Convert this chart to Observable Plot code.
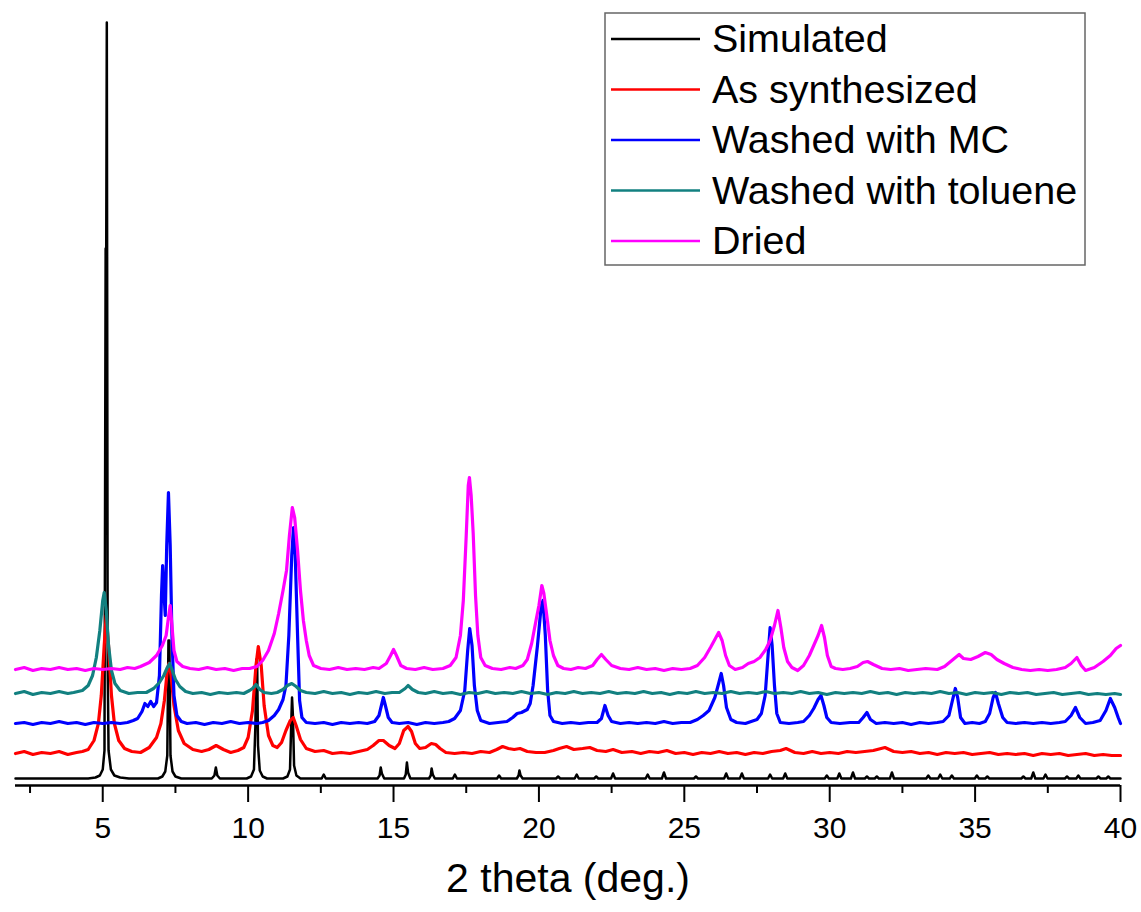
<!DOCTYPE html>
<html><head><meta charset="utf-8">
<script src="https://cdn.jsdelivr.net/npm/d3@7"></script>
<script src="https://cdn.jsdelivr.net/npm/@observablehq/plot@0.6"></script>
<style>
body{margin:0;background:#fff;}
#wrap{position:relative;width:1141px;height:912px;font-family:Arial,"Liberation Sans",sans-serif;}
#legend{position:absolute;left:604px;top:12px;}
#wrap g[aria-label="x-axis tick label"] text{font-size:30px !important;}
</style></head><body><div id="wrap"></div>
<script>
// ---- data (2 theta in degrees, intensity in a.u. with stacking offsets) ----
const seriesNames = ["Simulated", "As synthesized", "Washed with MC", "Washed with toluene", "Dried"];
const seriesColors = ["#000000", "#ff0000", "#0000ff", "#128080", "#ff00ff"];
const majorTicks = [5, 10, 15, 20, 25, 30, 35, 40];
const minorTicks = [2.5, 7.5, 12.5, 17.5, 22.5, 27.5, 32.5, 37.5];
const xTitle = "2 theta (deg.)";

const simulated = [[2.0,7],[4.5,7],[4.75,8],[4.9,10],[5.0,16],[5.06,35],[5.1,537],[5.12,530],[5.14,763],[5.17,120],[5.2,35],[5.28,16],[5.4,10],[5.6,8],[5.9,7],
[6.9,7],[7.05,9],[7.15,14],[7.22,30],[7.26,145],[7.29,145],[7.33,30],[7.4,14],[7.5,9],[7.7,7],
[8.75,7],[8.84,10],[8.89,18],[8.94,10],[9.03,7],
[9.95,7],[10.1,9],[10.2,16],[10.25,60],[10.28,126],[10.31,126],[10.34,40],[10.4,15],[10.5,9],[10.65,7],
[11.2,7],[11.35,9],[11.44,16],[11.48,60],[11.51,88],[11.54,70],[11.58,20],[11.66,10],[11.8,7],
[12.53,7],[12.6,11],[12.67,7],[14.45,7],[14.52,10],[14.56,18],[14.6,12],[14.68,7],
[15.36,7],[15.42,11],[15.46,23],[15.5,13],[15.58,7],[16.22,7],[16.28,10],[16.31,17],[16.35,11],[16.42,7],
[17.04,7],[17.11,11],[17.18,7],[18.56,7],[18.63,10],[18.7,7],[19.24,7],[19.3,10],[19.33,15],[19.37,10],[19.44,7],
[20.59,7],[20.66,9],[20.73,7],[21.23,7],[21.3,11],[21.37,7],[21.9,7],[21.97,9],[22.04,7],[22.48,7],[22.55,12],[22.62,7],
[23.67,7],[23.74,11],[23.81,7],[24.23,7],[24.3,13],[24.37,7],[25.33,7],[25.4,9],[25.47,7],[26.37,7],[26.44,12],[26.51,7],
[26.91,7],[26.98,12],[27.05,7],[27.88,7],[27.95,11],[28.02,7],[28.4,7],[28.47,12],[28.54,7],[29.83,7],[29.9,10],[29.97,7],
[30.26,7],[30.33,12],[30.4,7],[30.73,7],[30.8,13],[30.87,7],[31.21,7],[31.28,9],[31.35,7],[31.55,7],[31.62,9],[31.69,7],
[32.07,7],[32.14,13],[32.21,7],[33.32,7],[33.39,10],[33.46,7],[33.73,7],[33.8,11],[33.87,7],[34.13,7],[34.2,10],[34.27,7],
[34.99,7],[35.06,10],[35.13,7],[35.35,7],[35.42,9],[35.49,7],[36.59,7],[36.66,9],[36.73,7],[36.93,7],[37.0,13],[37.07,7],
[37.35,7],[37.42,11],[37.49,7],[38.09,7],[38.16,9],[38.23,7],[38.48,7],[38.55,10],[38.62,7],[39.17,7],[39.24,9],[39.31,7],
[39.51,7],[39.58,9],[39.65,7],[40.0,7]];

const asSynthesized = [[2.0,32],[2.3,34],[2.6,31],[2.9,33],[3.2,32],[3.5,34],[3.8,31],[4.1,33],[4.3,34],
[4.5,36],[4.7,45],[4.85,62],[4.95,90],[5.05,140],[5.12,170],[5.2,140],[5.3,90],[5.4,62],[5.55,45],[5.75,37],[6.0,34],[6.3,33],
[6.6,38],[6.85,48],[7.0,62],[7.12,85],[7.22,115],[7.28,122],[7.35,110],[7.45,80],[7.6,55],[7.8,42],[8.1,36],[8.4,34],[8.65,36],[8.9,40],[9.15,36],[9.4,33],
[9.65,35],[9.85,38],[10.0,48],[10.15,75],[10.27,120],[10.35,139],[10.45,120],[10.55,80],[10.7,50],[10.85,40],[11.0,38],
[11.15,43],[11.3,55],[11.45,65],[11.55,68],[11.65,60],[11.8,46],[12.0,37],[12.3,34],[12.6,35],[12.9,32],[13.2,33],[13.5,32],[13.8,34],
[14.1,36],[14.3,40],[14.5,45],[14.65,45],[14.85,40],[15.05,37],[15.2,42],[15.35,55],[15.5,59],[15.62,54],[15.75,42],[15.9,37],[16.1,38],[16.3,42],[16.45,41],[16.6,37],[16.8,33],
[17.1,32],[17.4,33],[17.7,32],[18.0,34],[18.3,33],[18.55,36],[18.75,39],[18.95,37],[19.15,36],[19.35,37],[19.6,34],[19.9,33],[20.2,33],[20.5,35],[20.7,37],[20.95,39],
[21.2,36],[21.5,37],[21.75,38],[22.0,35],[22.3,34],[22.55,36],[22.85,33],[23.2,34],[23.5,32],[23.8,34],[24.1,33],[24.4,35],[24.7,32],[25.0,33],[25.3,31],[25.6,33],
[25.9,32],[26.2,34],[26.5,32],[26.8,33],[27.1,31],[27.4,33],[27.7,32],[28.0,34],[28.3,35],[28.5,37],[28.8,33],[29.1,32],[29.4,34],[29.7,32],[30.0,33],[30.3,32],
[30.6,34],[30.9,33],[31.2,34],[31.5,35],[31.9,38],[32.2,34],[32.5,33],[32.8,34],[33.1,32],[33.4,33],[33.7,31],[34.0,33],[34.3,32],[34.6,33],[34.9,31],[35.2,32],
[35.5,33],[35.8,31],[36.1,32],[36.4,31],[36.7,32],[37.0,30],[37.3,32],[37.6,31],[37.9,32],[38.2,30],[38.5,31],[38.8,32],[39.1,30],[39.4,31],[39.7,30],[40.0,30]];

const washedMC = [[2.0,62],[2.3,63],[2.6,61],[2.9,63],[3.2,62],[3.5,64],[3.8,62],[4.1,63],[4.4,61],[4.7,63],[5.0,62],[5.3,63],[5.6,62],[5.85,63],[6.05,65],[6.2,67],
[6.35,74],[6.45,82],[6.55,79],[6.65,84],[6.75,79],[6.85,83],[6.95,110],[7.02,190],[7.06,220],[7.1,195],[7.15,170],[7.2,240],[7.26,293],[7.32,240],[7.38,150],[7.45,90],[7.55,70],[7.7,64],
[7.9,62],[8.2,63],[8.5,61],[8.8,63],[9.1,62],[9.4,64],[9.7,62],[10.0,63],[10.3,62],[10.5,63],[10.7,65],[10.9,70],[11.05,76],[11.2,86],[11.3,100],[11.4,150],[11.5,230],[11.56,258],
[11.62,230],[11.7,150],[11.77,85],[11.85,68],[12.0,63],[12.3,62],[12.6,63],[12.9,61],[13.2,63],[13.5,62],[13.8,63],[14.1,62],[14.35,64],[14.5,70],[14.6,82],[14.65,88],[14.72,80],
[14.82,68],[14.95,63],[15.2,62],[15.5,63],[15.8,61],[16.1,63],[16.4,62],[16.7,63],[16.9,64],[17.1,67],[17.3,75],[17.45,95],[17.55,135],[17.62,157],[17.7,140],[17.78,100],[17.88,75],
[18.0,65],[18.3,62],[18.6,63],[18.9,64],[19.1,68],[19.25,72],[19.4,73],[19.6,76],[19.7,82],[19.8,100],[19.95,140],[20.08,180],[20.14,185],[20.22,150],[20.3,95],[20.38,70],[20.5,64],
[20.8,62],[21.1,63],[21.4,62],[21.7,63],[22.0,63],[22.15,67],[22.27,80],[22.38,70],[22.5,64],[22.8,62],[23.1,63],[23.4,62],[23.7,63],[24.0,62],[24.3,64],[24.6,62],[24.9,63],
[25.2,63],[25.45,66],[25.65,70],[25.85,75],[26.05,88],[26.18,102],[26.27,112],[26.35,100],[26.45,78],[26.6,66],[26.8,63],[27.1,62],[27.3,64],[27.5,66],[27.65,72],[27.78,90],
[27.88,130],[27.95,158],[28.02,140],[28.1,100],[28.18,72],[28.3,63],[28.6,62],[28.9,63],[29.1,64],[29.3,70],[29.45,77],[29.6,86],[29.7,90],[29.8,80],[29.9,68],[30.05,63],
[30.35,62],[30.7,63],[31.0,63],[31.15,68],[31.28,73],[31.4,66],[31.6,62],[31.9,63],[32.2,62],[32.5,63],[32.8,61],[33.1,63],[33.4,62],[33.7,63],[33.9,64],[34.1,70],[34.22,85],
[34.32,97],[34.4,88],[34.5,68],[34.65,62],[34.9,63],[35.15,62],[35.35,64],[35.5,72],[35.62,88],[35.7,93],[35.8,82],[35.95,68],[36.1,63],[36.4,62],[36.7,63],[37.0,62],[37.3,63],
[37.6,62],[37.9,63],[38.1,64],[38.3,70],[38.45,78],[38.6,68],[38.8,62],[39.05,63],[39.3,65],[39.5,75],[39.65,87],[39.8,78],[39.92,68],[40.0,62]];

const washedToluene = [[2.0,92],[2.3,94],[2.6,91],[2.9,93],[3.2,92],[3.5,94],[3.8,92],[4.0,93],[4.3,95],[4.5,100],[4.65,110],[4.78,128],[4.9,155],[5.0,185],[5.05,193],[5.12,175],
[5.2,140],[5.3,115],[5.42,102],[5.6,95],[5.9,92],[6.2,93],[6.5,93],[6.75,97],[6.95,103],[7.1,110],[7.22,118],[7.3,122],[7.38,116],[7.5,106],[7.65,99],[7.85,94],[8.1,92],[8.4,93],
[8.7,91],[9.0,93],[9.3,92],[9.6,93],[9.85,92],[10.05,95],[10.15,97],[10.27,101],[10.4,96],[10.55,93],[10.8,92],[11.0,93],[11.2,96],[11.35,100],[11.5,102],[11.65,99],[11.8,95],
[12.0,93],[12.3,92],[12.6,94],[12.9,92],[13.2,93],[13.5,91],[13.8,93],[14.1,92],[14.4,94],[14.7,92],[14.95,93],[15.2,93],[15.4,97],[15.5,100],[15.65,96],[15.85,93],[16.1,92],
[16.4,94],[16.7,92],[17.0,93],[17.3,91],[17.6,93],[17.9,92],[18.2,94],[18.5,92],[18.8,93],[19.1,92],[19.4,94],[19.7,92],[20.0,93],[20.3,91],[20.6,93],[20.9,92],[21.2,94],
[21.5,92],[21.8,93],[22.1,92],[22.4,94],[22.7,92],[23.0,93],[23.3,92],[23.6,94],[23.9,92],[24.2,93],[24.5,91],[24.8,93],[25.1,92],[25.4,94],[25.7,92],[26.0,93],[26.3,92],
[26.6,94],[26.9,92],[27.2,93],[27.5,92],[27.8,94],[28.1,92],[28.4,93],[28.7,92],[29.0,94],[29.3,92],[29.6,93],[29.9,91],[30.2,93],[30.5,92],[30.8,93],[31.1,92],[31.4,94],
[31.7,92],[32.0,93],[32.3,91],[32.6,93],[32.9,92],[33.2,93],[33.5,92],[33.8,94],[34.1,92],[34.4,93],[34.7,91],[35.0,93],[35.3,92],[35.6,93],[35.9,91],[36.2,93],[36.5,92],
[36.8,93],[37.1,91],[37.4,92],[37.7,93],[38.0,91],[38.3,92],[38.6,93],[38.9,91],[39.2,92],[39.5,91],[39.8,92],[40.0,91]];

const dried = [[2.0,116],[2.3,118],[2.6,115],[2.9,117],[3.2,116],[3.5,118],[3.8,116],[4.1,117],[4.4,115],[4.7,117],[5.0,116],[5.3,117],[5.6,116],[5.85,118],[6.1,117],[6.3,119],
[6.6,123],[6.85,130],[7.05,140],[7.18,150],[7.26,168],[7.32,180],[7.38,160],[7.45,135],[7.55,124],[7.75,119],[8.0,117],[8.3,116],[8.6,118],[8.9,116],[9.2,117],[9.5,115],[9.8,117],
[10.05,117],[10.3,119],[10.5,125],[10.7,135],[10.9,152],[11.05,172],[11.2,195],[11.32,215],[11.42,250],[11.52,278],[11.6,268],[11.7,235],[11.8,195],[11.9,165],[12.0,145],[12.1,130],
[12.25,120],[12.5,117],[12.8,116],[13.1,118],[13.4,116],[13.7,117],[14.0,116],[14.3,118],[14.5,117],[14.75,122],[14.9,130],[15.0,136],[15.1,130],[15.25,120],[15.45,117],[15.75,116],
[16.05,118],[16.35,116],[16.7,117],[16.95,120],[17.15,128],[17.3,150],[17.4,185],[17.5,250],[17.57,300],[17.61,308],[17.67,290],[17.74,252],[17.82,190],[17.9,150],[18.0,128],
[18.15,120],[18.4,117],[18.7,116],[19.0,118],[19.2,117],[19.45,120],[19.6,126],[19.75,142],[19.9,165],[20.0,180],[20.1,200],[20.17,192],[20.27,170],[20.38,145],[20.5,130],[20.65,120],
[20.85,117],[21.1,116],[21.35,118],[21.6,117],[21.85,120],[22.0,126],[22.15,131],[22.3,126],[22.5,120],[22.8,117],[23.1,116],[23.4,118],[23.7,116],[24.0,117],[24.3,115],[24.6,117],
[24.9,116],[25.2,117],[25.45,120],[25.7,128],[25.9,138],[26.05,146],[26.18,153],[26.3,145],[26.42,130],[26.55,120],[26.75,116],[27.0,118],[27.2,122],[27.4,124],[27.6,128],[27.8,136],
[27.95,145],[28.1,160],[28.22,175],[28.32,158],[28.42,138],[28.55,124],[28.7,118],[28.9,115],[29.1,120],[29.3,130],[29.45,140],[29.6,150],[29.72,160],[29.82,148],[29.92,130],
[30.05,119],[30.2,117],[30.45,116],[30.7,117],[30.95,119],[31.15,123],[31.3,124],[31.5,121],[31.8,117],[32.1,116],[32.4,117],[32.7,115],[33.0,116],[33.3,117],[33.7,116],
[33.95,119],[34.2,125],[34.45,131],[34.6,127],[34.85,126],[35.1,129],[35.35,133],[35.55,131],[35.75,126],[36.0,122],[36.3,118],[36.6,116],[36.9,115],[37.2,116],[37.5,115],
[37.8,116],[38.1,118],[38.3,122],[38.5,128],[38.65,120],[38.8,115],[39.1,118],[39.4,124],[39.65,130],[39.85,137],[40.0,140]];

const seriesData = [simulated, asSynthesized, washedMC, washedToluene, dried];
const seriesWidths = [2.5, 3.2, 3.2, 3.2, 3.2];

// ---- build table ----
const rows = seriesData.flatMap((arr, i) => arr.map(([x, y]) => ({series: seriesNames[i], x, y})));

const lineMarks = seriesNames.map((name, i) =>
  Plot.line(rows.filter(d => d.series === name), {
    x: "x", y: "y", stroke: "series", strokeWidth: seriesWidths[i], strokeLinejoin: "round"
  })
);

const chart = Plot.plot({
  width: 1141,
  height: 912,
  marginLeft: 15,
  marginRight: 21,
  marginTop: 15,
  marginBottom: 127,
  style: {fontFamily: 'Arial, "Liberation Sans", sans-serif', background: "#fff", color: "#000"},
  x: {domain: [2, 40]},
  y: {domain: [0, 770], axis: null},
  color: {domain: seriesNames, range: seriesColors},
  marks: [
    ...lineMarks,
    Plot.ruleY([0], {strokeWidth: 2.5, stroke: "#000"}),
    Plot.axisX({ticks: majorTicks, tickSize: 17, tickPadding: 14, strokeWidth: 2, fontSize: 30, label: null, tickFormat: d => String(d)}),
    Plot.axisX({ticks: minorTicks, tickSize: 8, strokeWidth: 2, label: null, tickFormat: () => ""}),
    Plot.text([xTitle], {frameAnchor: "bottom", dy: 106, fontSize: 41, text: d => d, fill: "#000"})
  ]
});
const wrap = document.getElementById("wrap");
wrap.appendChild(chart);

// ---- legend (overlay box, top right) ----
const lg = d3.select(wrap).append("svg").attr("id", "legend").attr("width", 483).attr("height", 256);
lg.append("rect").attr("x", 1).attr("y", 1).attr("width", 480).attr("height", 252)
  .attr("fill", "#fff").attr("stroke", "#666").attr("stroke-width", 1.5);
const items = lg.selectAll("g").data(seriesNames).join("g")
  .attr("transform", (d, i) => `translate(0,${27 + i * 50.5})`);
items.append("line").attr("x1", 7).attr("x2", 96).attr("y1", 0).attr("y2", 0)
  .attr("stroke", (d, i) => seriesColors[i]).attr("stroke-width", 2.6);
items.append("text").attr("x", 108).attr("y", 13).text(d => d)
  .attr("font-size", 39.5).attr("font-family", 'Arial, "Liberation Sans", sans-serif').attr("fill", "#000");
</script>
</body></html>
